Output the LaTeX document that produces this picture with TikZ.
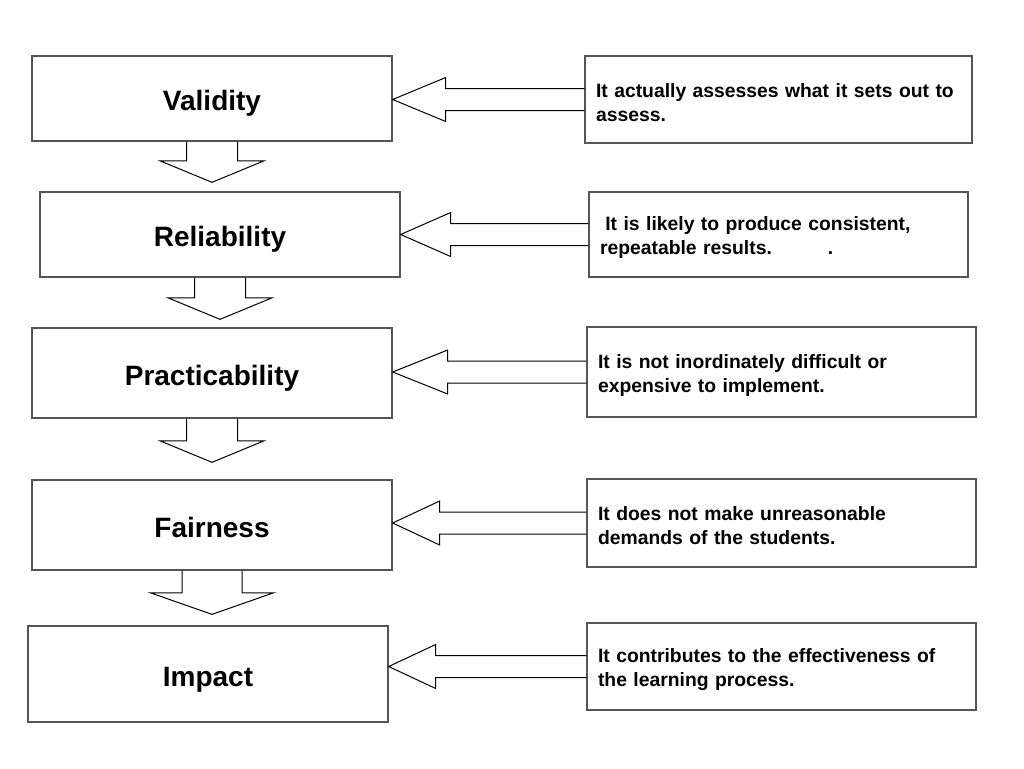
\documentclass[tikz,border=0pt]{standalone}
\usepackage{fontspec}
\setmainfont{Liberation Sans}
\usetikzlibrary{calc}

\tikzset{every picture/.style={line width=0.75pt}}
\tikzset{
  stagebox/.style={draw={rgb, 255:red, 85; green, 85; blue, 85}, line width=1pt, minimum width=270pt, inner sep=0pt, text height=18pt, text depth=0pt, font=\fontsize{21}{25}\selectfont\bfseries},
  descbox/.style={draw={rgb, 255:red, 85; green, 85; blue, 85}, line width=1pt, align=left, inner xsep=8.25pt, inner ysep=0pt, font=\fontsize{14.5}{18}\selectfont\bfseries},
}
% taller first line, pushes the description text a little down
\newcommand{\tallline}{\rule{0pt}{15pt}}

% block arrow from a description box to its stage box: #1 description, #2 stage, #3 head length
\newcommand{\leftblock}[3]{%
  \draw ($(#1.west)+(0,-11)$) -- ($(#2.east |- #1.west)+(#3,-11)$) -- ++(0,-11) -- (#2.east |- #1.west) -- ++(#3,22) -- ++(0,-11) -- ($(#1.west)+(0,11)$) ;}
% block arrow between two stages: #1 upper, #2 lower, #3 shaft half width, #4 head half width, #5 gap above lower
\newcommand{\downblock}[5]{%
  \coordinate (downtip) at ($(#1.south |- #2.north)+(0,-#5)$);
  \draw ($(#1.south)+(-#3,0)$) -- ($(downtip)+(-#3,-21.5)$) -- ($(downtip)+(-#4,-21.5)$) -- (downtip) -- ($(downtip)+(#4,-21.5)$) -- ($(downtip)+(#3,-21.5)$) -- ($(#1.south)+(#3,0)$) ;}

\begin{document}
\begin{tikzpicture}[x=0.75pt,y=0.75pt,yscale=-1,xscale=1]
%set diagram left start at 0, and has height of 768
\useasboundingbox (0,0) rectangle (1024,768);

%Shape: Rectangle [stages]
\node[stagebox, minimum height=63.75pt] (validity) at (212,98.5) {Validity};
\node[stagebox, minimum height=63.75pt] (reliability) at (220,234.5) {Reliability};
\node[stagebox, minimum height=67.5pt] (practicability) at (212,373) {Practicability};
\node[stagebox, minimum height=67.5pt] (fairness) at (212,525) {Fairness};
\node[stagebox, minimum height=72pt] (impact) at (208,674) {Impact};

%Shape: Rectangle [descriptions]
\node[descbox, text width=273.75pt, minimum height=65.25pt] (dvalidity) at (778.5,99.5) {\tallline It actually assesses what it sets out to\\assess.};
\node[descbox, text width=267.75pt, minimum height=63.75pt] (dreliability) at (778.5,234.5) {\tallline\hspace*{4pt}It is likely to produce consistent,\\repeatable results.\hspace{42pt}.};
\node[descbox, text width=275.25pt, minimum height=67.5pt] (dpracticability) at (781.5,372) {\tallline It is not inordinately difficult or\\expensive to implement.};
\node[descbox, text width=275.25pt, minimum height=66pt] (dfairness) at (781.5,523) {\tallline It does not make unreasonable\\demands of the students.};
\node[descbox, text width=275.25pt, minimum height=65.25pt] (dimpact) at (781.5,666.5) {\tallline It contributes to the effectiveness of\\the learning process.};

%Shape: Right Arrow
\leftblock{dvalidity}{validity}{53}
\leftblock{dreliability}{reliability}{50}
\leftblock{dpracticability}{practicability}{55}
\leftblock{dfairness}{fairness}{47}
\leftblock{dimpact}{impact}{47}

%Shape: Down Arrow
\downblock{validity}{reliability}{25.5}{52}{9}
\downblock{reliability}{practicability}{25.5}{52}{8}
\downblock{practicability}{fairness}{25.5}{52}{17}
\downblock{fairness}{impact}{30}{61.5}{11}
\end{tikzpicture}
\end{document}
